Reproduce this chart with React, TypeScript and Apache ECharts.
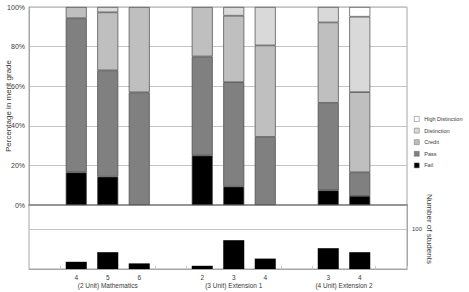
import React, { useEffect, useRef } from 'react';
import * as echarts from 'echarts';

// Category axis: blank slots separate the three courses
const levels = ['', '4', '5', '6', '', '2', '3', '4', '', '3', '4', ''];
const courses = [
  { name: '(2 Unit) Mathematics', first: 1, last: 3 },
  { name: '(3 Unit) Extension 1', first: 5, last: 7 },
  { name: '(4 Unit) Extension 2', first: 9, last: 10 },
];

// Percentage of students in each merit grade
const fail = [null, 16.5, 14.3, null, null, 25.0, 9.3, null, null, 7.4, 4.6, null];
const pass = [null, 77.8, 53.7, 56.9, null, 50.0, 52.7, 34.4, null, 44.2, 11.9, null];
const credit = [null, 5.7, 29.3, 43.1, null, 25.0, 33.6, 46.2, null, 40.6, 40.5, null];
const distinction = [null, null, 2.7, null, null, null, 4.4, 19.4, null, 7.8, 38.1, null];
const highDistinction = [null, null, null, null, null, null, null, null, null, null, 4.9, null];

// Number of students sitting each exam
const students = [null, 18, 42, 14, null, 8, 72, 26, null, 52, 42, null];

const percentTicks = { min: 0, max: 100, step: 20 };
const studentTicks = { min: 0, max: 160, step: 100 };

const grades = [
  { name: 'High Distinction', data: highDistinction, color: '#ffffff' },
  { name: 'Distinction', data: distinction, color: '#d9d9d9' },
  { name: 'Credit', data: credit, color: '#bfbfbf' },
  { name: 'Pass', data: pass, color: '#808080' },
  { name: 'Fail', data: fail, color: '#000000' },
];

const FONT = 'Liberation Sans';
const TEXT = '#3a3a3a';
const GRID_LINE = '#c4c4c4';
const BORDER = '#a6a6a6';
const tickBoundaries = [1, 4, 5, 8, 9, 11];

export default function App() {
  const ref = useRef<HTMLDivElement>(null);

  useEffect(() => {
    if (!ref.current) return;
    const chart = echarts.init(ref.current, undefined, { renderer: 'svg' });

    const stackOrder = [...grades].reverse();

    chart.setOption({
      animation: false,
      textStyle: { fontFamily: FONT },
      grid: [
        { left: 29, right: 62, top: 7, height: 198, show: true, borderColor: BORDER, borderWidth: 1 },
        { left: 29, right: 62, top: 205, bottom: 23, show: true, borderColor: BORDER, borderWidth: 1 },
      ],
      legend: {
        orient: 'vertical',
        left: 414,
        top: 116,
        padding: 0,
        icon: 'rect',
        itemWidth: 5,
        itemHeight: 5,
        itemGap: 5.6,
        data: grades.map((g) => g.name),
        itemStyle: { borderColor: '#6a6a6a', borderWidth: 0.5 },
        textStyle: { fontSize: 5.5, color: TEXT, fontFamily: FONT },
      },
      xAxis: [
        {
          type: 'category',
          gridIndex: 0,
          data: levels,
          axisLabel: { show: false },
          axisTick: { show: false },
          axisLine: { show: true, lineStyle: { color: '#868686', width: 1.5 } },
        },
        {
          type: 'category',
          gridIndex: 1,
          data: levels,
          axisLabel: { interval: 0, fontSize: 6.5, color: TEXT, margin: 5, fontFamily: FONT },
          axisTick: {
            show: true,
            inside: true,
            length: 3,
            interval: (i: number) => tickBoundaries.includes(i),
            lineStyle: { color: '#c8c8c8' },
          },
          axisLine: { show: true, lineStyle: { color: BORDER } },
        },
      ],
      yAxis: [
        {
          type: 'value',
          gridIndex: 0,
          min: percentTicks.min,
          max: percentTicks.max,
          interval: percentTicks.step,
          axisLabel: { formatter: '{value}%', fontSize: 7, color: TEXT, margin: 4, fontFamily: FONT },
          axisLine: { show: true, lineStyle: { color: BORDER } },
          axisTick: { show: false },
          splitLine: { lineStyle: { color: GRID_LINE } },
        },
        {
          type: 'value',
          gridIndex: 1,
          position: 'right',
          min: studentTicks.min,
          max: studentTicks.max,
          interval: studentTicks.step,
          axisLabel: { showMinLabel: false, showMaxLabel: false, fontSize: 6, color: TEXT, margin: 5, fontFamily: FONT },
          axisLine: { show: true, lineStyle: { color: BORDER } },
          axisTick: { show: false },
          splitLine: { lineStyle: { color: GRID_LINE } },
        },
      ],
      series: [
        ...stackOrder.map((g) => ({
          name: g.name,
          type: 'bar',
          xAxisIndex: 0,
          yAxisIndex: 0,
          stack: 'grade',
          barWidth: 21,
          data: g.data,
          itemStyle: { color: g.color, borderColor: '#474747', borderWidth: 0.7 },
        })),
        {
          name: 'Students',
          type: 'bar',
          xAxisIndex: 1,
          yAxisIndex: 1,
          barWidth: 21,
          data: students,
          itemStyle: { color: '#000000' },
        },
      ],
    });

    // Course names sit centred beneath their group of levels
    const courseLabels = courses.map((c) => {
      const x1 = chart.convertToPixel({ xAxisIndex: 1 }, c.first) as number;
      const x2 = chart.convertToPixel({ xAxisIndex: 1 }, c.last) as number;
      return {
        type: 'text',
        x: (x1 + x2) / 2,
        y: 285,
        style: {
          text: c.name,
          fontSize: 6.5,
          fontFamily: FONT,
          fill: TEXT,
          textAlign: 'center',
          textVerticalAlign: 'middle',
        },
      };
    });

    chart.setOption({
      graphic: [
        ...courseLabels,
        {
          type: 'text',
          x: 8,
          y: 106,
          rotation: Math.PI / 2,
          style: {
            text: 'Percentage in merit grade',
            fontSize: 8,
            fontFamily: FONT,
            fill: TEXT,
            textAlign: 'center',
            textVerticalAlign: 'middle',
          },
        },
        {
          type: 'text',
          x: 429,
          y: 229,
          rotation: -Math.PI / 2,
          style: {
            text: 'Number of students',
            fontSize: 8,
            fontFamily: FONT,
            fill: TEXT,
            textAlign: 'center',
            textVerticalAlign: 'middle',
          },
        },
      ],
    });

    return () => chart.dispose();
  }, []);

  return (
    <div
      ref={ref}
      style={{ position: 'fixed', left: 0, top: 0, width: 469, height: 292, background: '#ffffff' }}
    />
  );
}
